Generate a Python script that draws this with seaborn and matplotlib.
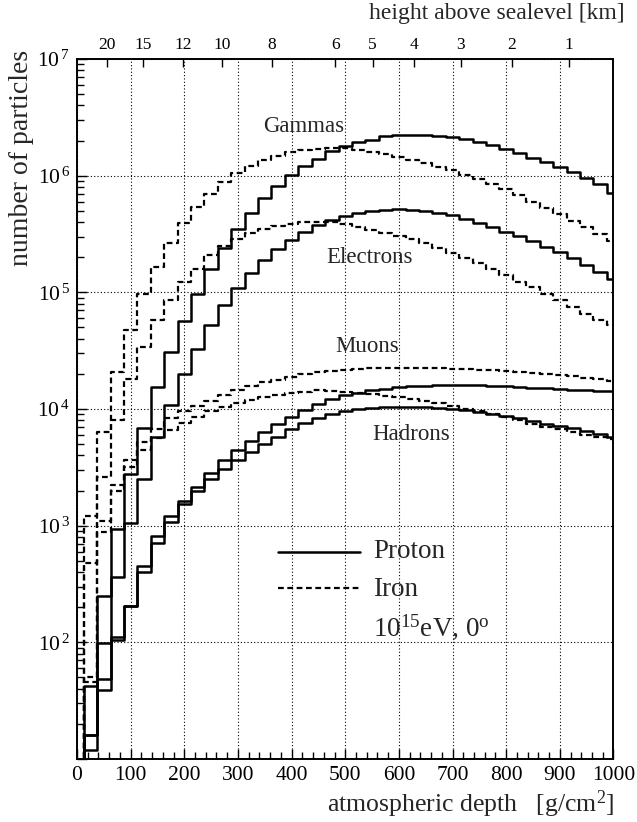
import numpy as np
import pandas as pd
import matplotlib
matplotlib.use("Agg")
import matplotlib.pyplot as plt
import seaborn as sns
from matplotlib.ticker import MultipleLocator, LogLocator, FuncFormatter, NullFormatter, FixedLocator
from matplotlib.lines import Line2D

# Longitudinal shower profiles, 10^15 eV vertical showers, 25 g/cm^2 bins
bin_width = 25
depth = np.arange(25, 1001, 25)  # bin centres [g/cm^2]

gammas_proton = [42, 250, 930, 2770, 6820, 15400, 30700, 57200, 97700, 1.58e5,
                 2.38e5, 3.47e5, 4.82e5, 6.40e5, 8.17e5, 1.02e6, 1.22e6, 1.39e6, 1.63e6, 1.80e6,
                 1.93e6, 2.03e6, 2.17e6, 2.24e6, 2.25e6, 2.24e6, 2.20e6, 2.16e6, 2.08e6, 1.96e6,
                 1.84e6, 1.70e6, 1.56e6, 1.43e6, 1.30e6, 1.18e6, 1.07e6, 9.64e5, 8.51e5, 7.16e5]
gammas_iron = [1200, 6310, 20700, 47900, 97700, 1.65e5, 2.66e5, 3.91e5, 5.36e5, 6.93e5,
               8.89e5, 1.05e6, 1.21e6, 1.37e6, 1.48e6, 1.60e6, 1.67e6, 1.70e6, 1.73e6, 1.72e6,
               1.67e6, 1.61e6, 1.54e6, 1.46e6, 1.37e6, 1.28e6, 1.18e6, 1.11e6, 1.02e6, 9.40e5,
               8.51e5, 7.66e5, 6.79e5, 5.98e5, 5.25e5, 4.67e5, 4.11e5, 3.65e5, 3.16e5, 2.77e5]
electrons_proton = [16, 99, 362, 1060, 2510, 5710, 10800, 19800, 32900, 52100,
                    77400, 1.08e5, 1.47e5, 1.89e5, 2.33e5, 2.81e5, 3.27e5, 3.78e5, 4.17e5, 4.51e5,
                    4.76e5, 4.98e5, 5.08e5, 5.15e5, 5.08e5, 4.98e5, 4.76e5, 4.57e5, 4.28e5, 3.95e5,
                    3.65e5, 3.30e5, 3.03e5, 2.75e5, 2.45e5, 2.22e5, 1.98e5, 1.73e5, 1.50e5, 1.30e5]
electrons_iron = [480, 2590, 8050, 18200, 34000, 57500, 85500, 1.23e5, 1.60e5, 2.08e5,
                  2.51e5, 2.88e5, 3.24e5, 3.51e5, 3.72e5, 3.89e5, 3.98e5, 4.03e5, 4.03e5, 3.85e5,
                  3.65e5, 3.42e5, 3.24e5, 3.03e5, 2.84e5, 2.63e5, 2.38e5, 2.16e5, 1.98e5, 1.79e5,
                  1.60e5, 1.40e5, 1.23e5, 1.11e5, 97700, 85500, 74800, 65800, 58300, 52100]
muons_proton = [16, 49, 112, 204, 450, 815, 1210, 1630, 2140, 2820,
                3630, 4470, 5370, 6310, 7410, 8510, 9770, 11000, 12300, 13200,
                13800, 14500, 14900, 15300, 15700, 15800, 16000, 16100, 16100, 16000,
                15800, 15700, 15500, 15200, 15000, 14800, 14600, 14500, 14300, 14200]
muons_iron = [46, 1100, 2240, 3630, 5250, 6760, 8320, 9550, 10700, 11800,
              13200, 14600, 15600, 17000, 17900, 19000, 19800, 20700, 21100, 21700,
              22100, 22400, 22500, 22500, 22500, 22400, 22300, 22100, 21900, 21600,
              21400, 21100, 20700, 20200, 19800, 19500, 19100, 18600, 18100, 17500]
hadrons_proton = [12, 39, 105, 204, 398, 714, 1080, 1530, 2000, 2510,
                  3090, 3630, 4250, 5010, 5790, 6750, 7530, 8370, 9080, 9680,
                  10000, 10300, 10500, 10500, 10500, 10400, 10300, 10000, 9770, 9440,
                  9080, 8710, 8320, 7940, 7500, 7190, 6840, 6460, 6100, 5710]
hadrons_iron = [50, 890, 2000, 3160, 4470, 5620, 6610, 7590, 8510, 9550,
                10500, 11200, 12000, 12600, 13200, 13800, 14100, 14500, 14400, 14100,
                13800, 13500, 13000, 12600, 12200, 11700, 11200, 10700, 10100, 9550,
                9020, 8510, 8040, 7500, 7080, 6680, 6310, 6000, 5750, 5530]

# height above sea level [km] and the corresponding vertical depth [g/cm^2]
height_km = [20, 15, 12, 10, 8, 6, 5, 4, 3, 2, 1]
height_depth = [56.4, 123.5, 197.8, 270.2, 363.5, 481.5, 551.1, 628.6, 714.9, 810.6, 916.5]

sns.set_theme(style="white")
plt.rcParams['font.family'] = ['Liberation Serif', 'DejaVu Serif']
plt.rcParams['mathtext.fontset'] = 'custom'
plt.rcParams['mathtext.rm'] = 'Liberation Serif'
plt.rcParams['mathtext.it'] = 'Liberation Serif:italic'
plt.rcParams['mathtext.bf'] = 'Liberation Serif:bold'

fig = plt.figure(figsize=(6.37, 8.22), dpi=100)
ax = fig.add_axes([0.1209, 0.0766, 0.8422, 0.8516])

DASH = (0, (2.6, 1.6))


def step_frame(values):
    """Histogram outline: rises from the floor at the first bin edge."""
    left = depth - bin_width / 2
    x = np.concatenate([[left[0]], left, [depth[-1] + bin_width / 2]])
    y = np.concatenate([[1.0], values, [values[-1]]])
    return pd.DataFrame({"depth": x, "n": y})


series = [
    (gammas_proton, "-"), (gammas_iron, DASH),
    (electrons_proton, "-"), (electrons_iron, DASH),
    (muons_proton, "-"), (muons_iron, DASH),
    (hadrons_proton, "-"), (hadrons_iron, DASH),
]
for values, ls in series:
    sns.lineplot(data=step_frame(np.asarray(values, float)), x="depth", y="n", ax=ax,
                 color="black", linewidth=1.8 if ls == "-" else 1.6, linestyle=ls,
                 drawstyle="steps-post", sort=False, estimator=None, legend=False)

ax.set_yscale("log")
ax.set_xlim(0, 1000)
ax.set_ylim(10, 1e7)
ax.set_xlabel("")
ax.set_ylabel("")

ax.xaxis.set_major_locator(MultipleLocator(100))
ax.xaxis.set_minor_locator(MultipleLocator(20))
ax.yaxis.set_major_locator(LogLocator(base=10, numticks=10))
ax.yaxis.set_minor_locator(LogLocator(base=10, subs=np.arange(2, 10), numticks=20))
ax.yaxis.set_minor_formatter(NullFormatter())
ax.yaxis.set_major_formatter(FuncFormatter(
    lambda v, p: r"$10^{\,%d}$" % round(np.log10(v)) if v >= 99 else ""))

ax.grid(True, which="major", linestyle=(0, (1, 2)), color="black", linewidth=0.8)
ax.tick_params(which="both", direction="in", top=False, right=False, left=True, bottom=True,
               colors="black")
ax.tick_params(which="major", length=7, width=1, labelsize=15.5, pad=5)
ax.tick_params(which="minor", length=5, width=1)
for sp in ax.spines.values():
    sp.set_color("black")
    sp.set_linewidth(1.4)

# height scale along the top edge
top = ax.twiny()
top.set_xlim(ax.get_xlim())
top.xaxis.set_major_locator(FixedLocator(height_depth))
top.set_xticklabels([str(h) for h in height_km])
top.tick_params(axis="x", direction="in", length=6, width=1, labelsize=12.5, pad=4, colors="black")
top.grid(False)
for sp in top.spines.values():
    sp.set_visible(False)

fig.text(0.033, 0.808, "number of particles", rotation=90, ha="center", va="center", fontsize=20)
fig.text(0.739, 0.021, "atmospheric depth   [g/cm$^2$]", ha="center", va="center", fontsize=18.5)
fig.text(0.780, 0.983, "height above sealevel [km]", ha="center", va="center", fontsize=17)

# curve names
ax.text(0.423, 0.903, "Gammas", transform=ax.transAxes, ha="center", va="center", fontsize=16.5)
ax.text(0.546, 0.716, "Electrons", transform=ax.transAxes, ha="center", va="center", fontsize=16.5)
ax.text(0.541, 0.589, "Muons", transform=ax.transAxes, ha="center", va="center", fontsize=16.5)
ax.text(0.623, 0.464, "Hadrons", transform=ax.transAxes, ha="center", va="center", fontsize=16.5)

# key for primary type
ax.add_line(Line2D([0.375, 0.527], [0.296, 0.296], transform=ax.transAxes, color="black", lw=1.8))
ax.add_line(Line2D([0.375, 0.527], [0.244, 0.244], transform=ax.transAxes, color="black", lw=1.6,
                   linestyle=DASH))
ax.text(0.552, 0.296, "Proton", transform=ax.transAxes, ha="left", va="center", fontsize=19.5)
ax.text(0.552, 0.242, "Iron", transform=ax.transAxes, ha="left", va="center", fontsize=19.5)
ax.text(0.552, 0.188, r"$10^{15}$eV, 0$^{\mathrm{o}}$", transform=ax.transAxes, ha="left",
        va="center", fontsize=19.5)

fig.savefig("out.png", dpi=100)
